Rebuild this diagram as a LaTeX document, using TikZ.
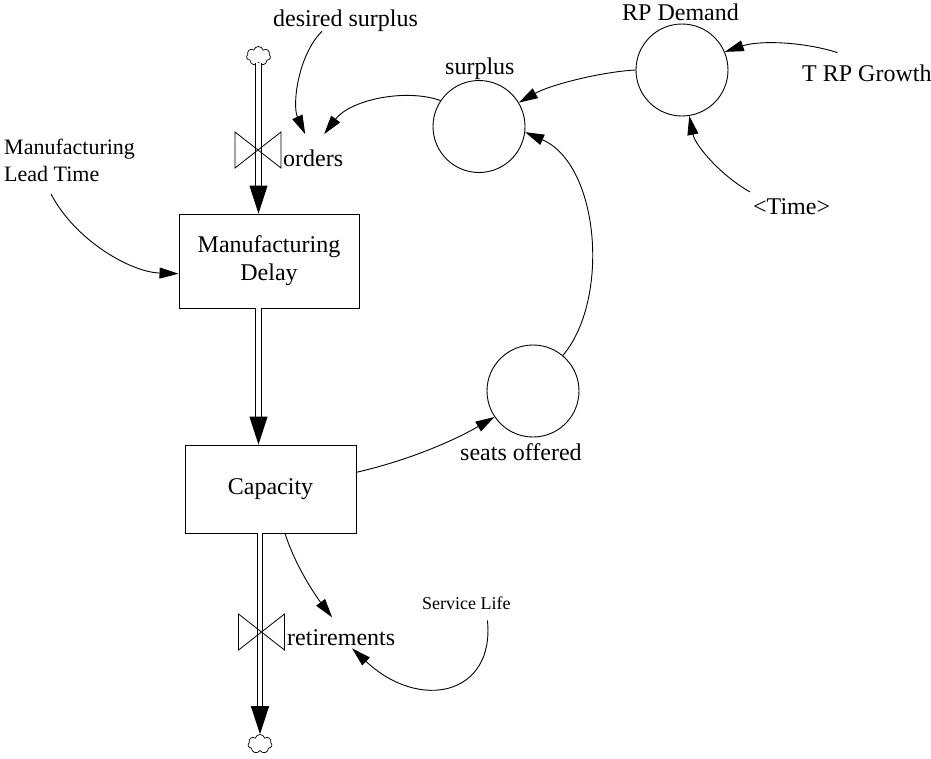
\documentclass[tikz,border=0pt]{standalone}
\usepackage{fontspec}
\setmainfont{Liberation Serif}
\usetikzlibrary{arrows.meta,positioning,shapes.symbols}

\begin{document}
\begin{tikzpicture}[x=1pt,y=-1pt,
  stock/.style={rectangle,draw,line width=0.9pt,inner sep=0pt,
                align=center,font=\fontsize{24}{28}\selectfont},
  aux/.style={circle,draw,line width=0.9pt,minimum size=92pt,inner sep=0pt},
  lbl/.style={font=\fontsize{24}{27}\selectfont,inner sep=0pt,anchor=base west},
  sink/.style={cloud,cloud puffs=7,draw,line width=0.7pt,minimum width=24pt,
               minimum height=19pt,inner sep=0pt},
  pipe/.style={double,double distance=4.5pt,line width=0.9pt,
               -{Triangle[length=28pt,width=18pt]}},
  valve/.style={line width=0.8pt},
  arr/.style={line width=0.9pt,-{Triangle[length=19pt,width=11pt]}}
]
  \useasboundingbox (0,0) rectangle (931,758);

  % ---- Stocks ------------------------------------------------
  \node[stock,minimum width=180pt,minimum height=94pt]
    (mdelay) at (269,261) {Manufacturing\\Delay};
  \node[stock,minimum width=171pt,minimum height=88pt]
    (capacity) at (270.5,489) {Capacity};

  % ---- Clouds ------------------------------------------------
  \node[sink] (src) at (258.5,56) {};
  \node[sink] (snk) at (260,744) {};

  % ---- Flow pipes --------------------------------------------
  \draw[pipe] (src.south) -- (src.south |- mdelay.north);
  \draw[pipe] (src |- mdelay.south) -- (src |- capacity.north);
  \draw[pipe] (snk |- capacity.south) -- (snk.north);

  % ---- Valves ------------------------------------------------
  \coordinate (vord) at (258,150);
  \coordinate (vret) at (261.5,632);
  \foreach \v in {vord,vret}
    \draw[valve] ([shift={(-23,-18)}]\v) -- ([shift={(23,18)}]\v)
      -- ([shift={(23,-18)}]\v) -- ([shift={(-23,18)}]\v) -- cycle;

  % ---- Auxiliaries -------------------------------------------
  \node[aux] (surplus) at (479,126.5) {};
  \node[aux] (rpd) at (682,70) {};
  \node[aux] (seats) at (533,391) {};

  % ---- Labels ------------------------------------------------
  \node[lbl] (dsur) at (273,26) {desired surplus};
  \node[lbl] (ordl) at (283,166) {orders};
  \node[lbl] (surl) at (445,74) {surplus};
  \node[lbl] (rpdl) at (622,20) {RP Demand};
  \node[lbl] (trpg) at (802,81) {T RP Growth};
  \node[lbl] (timel) at (753,214) {\textless Time\textgreater};
  \node[lbl] (seatl) at (460,460) {seats offered};
  \node[lbl] (retl) at (287,645) {retirements};
  \node[lbl,font=\fontsize{18}{22}\selectfont] (svl) at (422,609) {Service Life};
  \node[lbl,font=\fontsize{22}{27}\selectfont,align=left,anchor=north west]
    (leadt) at (4,139) {Manufacturing\\Lead Time};

  % ---- Information links -------------------------------------
  \draw[arr] ([xshift=-18.5pt,yshift=-12pt]leadt.south)
    .. controls (75,240) and (130,272) .. (mdelay.188);
  \draw[arr] ([xshift=49pt]dsur.south west)
    .. controls (298,55) and (292,105) .. ([xshift=-8pt,yshift=15pt]ordl.north);
  \draw[arr] (surplus.146)
    .. controls (405,88) and (350,100) .. ([xshift=11pt,yshift=15pt]ordl.north);
  \draw[arr] (rpd.west)
    .. controls (600,72) and (550,85) .. (surplus.31);
  \draw[arr] ([xshift=-29.5pt,yshift=11.5pt]trpg.north)
    .. controls (805,42) and (760,40) .. (rpd.23);
  \draw[arr] ([xshift=-3pt,yshift=6pt]timel.north west)
    .. controls (720,175) and (695,145) .. (rpd.-81);
  \draw[arr] (seats.50)
    .. controls (610,300) and (600,165) .. (surplus.-7);
  \draw[arr] (capacity.11)
    .. controls (410,460) and (455,440) .. (seats.214);
  \draw[arr] ([xshift=14.5pt]capacity.south)
    .. controls (295,565) and (315,595) .. ([xshift=-9pt,yshift=11.5pt]retl.north);
  \draw[arr] ([xshift=21pt,yshift=-11pt]svl.south)
    .. controls (495,695) and (420,712) .. ([xshift=11pt,yshift=-3pt]retl.south);

\end{tikzpicture}
\end{document}
